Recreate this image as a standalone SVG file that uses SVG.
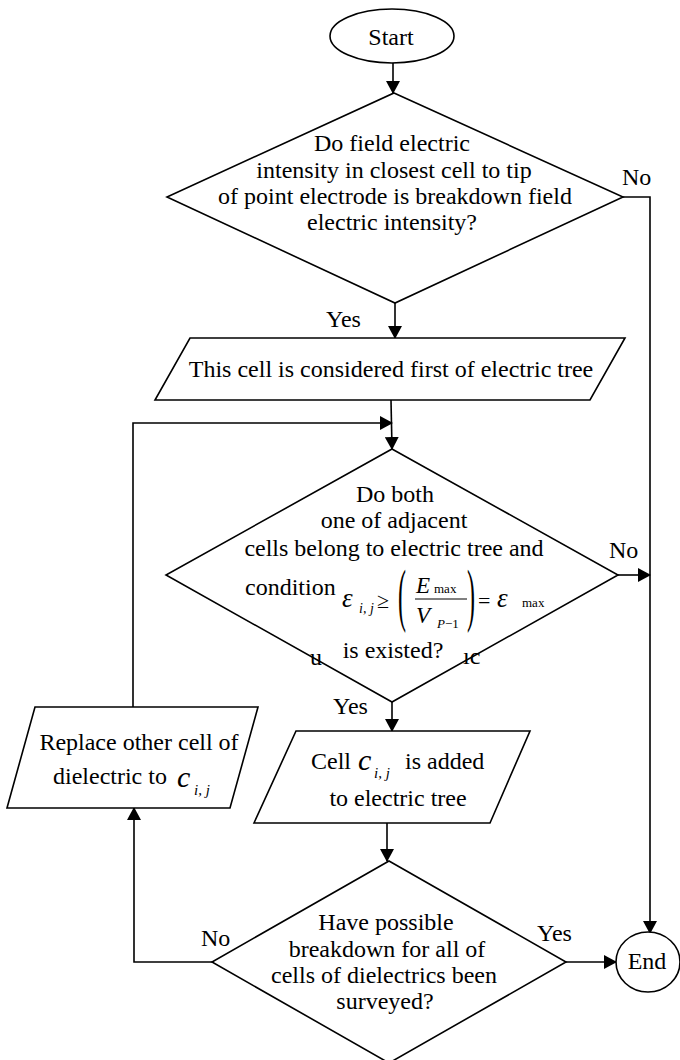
<svg xmlns="http://www.w3.org/2000/svg" width="680" height="1060" viewBox="0 0 680 1060">
<style>
.s{fill:#fff;stroke:#000;stroke-width:1.6}
.c{fill:none;stroke:#000;stroke-width:1.6}
text{font-family:"Liberation Serif","Times New Roman",serif;fill:#000}
.t{font-size:24px;text-anchor:middle}
.n{font-size:24px}
.l{font-size:24px}
.m{font-style:italic}
</style>
<defs>
<marker id="a" markerUnits="userSpaceOnUse" markerWidth="14" markerHeight="14" refX="12" refY="7" orient="auto">
<path d="M0,0 L13,7 L0,14 z" fill="#000"/>
</marker>
<clipPath id="fr"><rect x="300" y="652" width="200" height="20"/></clipPath>
</defs>
<rect width="680" height="1060" fill="#fff"/>
<g id="connectors" class="c">
<path d="M393,63 L393,93" marker-end="url(#a)"/>
<path d="M395,303 L395,338" marker-end="url(#a)"/>
<path d="M623,197 L650,197 L650,933" marker-end="url(#a)"/>
<path d="M391,400 L392,449" marker-end="url(#a)"/>
<path d="M133,707 L133,423 L392,423" marker-end="url(#a)"/>
<path d="M618,575 L650,575" marker-end="url(#a)"/>
<path d="M392,702 L392,731" marker-end="url(#a)"/>
<path d="M387,823 L387,861" marker-end="url(#a)"/>
<path d="M212,962 L134,962 L134,808" marker-end="url(#a)"/>
<path d="M566,962 L616,962" marker-end="url(#a)"/>
</g>
<g id="start">
<ellipse class="s" cx="392" cy="36" rx="62" ry="27"/>
<text class="t" x="391" y="45">Start</text>
</g>
<g id="decision1">
<polygon class="s" points="394,93 623,197 395,303 167,197"/>
<text class="t" x="392" y="151">Do field electric</text>
<text class="t" x="394" y="178">intensity in closest cell to tip</text>
<text class="t" x="395" y="204">of point electrode is breakdown field</text>
<text class="t" x="392" y="230">electric intensity?</text>
</g>
<g id="first-cell">
<polygon class="s" points="190,338 625,338 590,400 155,400"/>
<text class="t" x="391" y="377">This cell is considered first of electric tree</text>
</g>
<g id="decision2">
<polygon class="s" points="392,449 618,575 392,702 166,575"/>
<text class="t" x="395" y="502">Do both</text>
<text class="t" x="394" y="528">one of adjacent</text>
<text class="t" x="394" y="556">cells belong to electric tree and</text>
<text class="n" x="245" y="595">condition</text>
<text class="m" style="font-size:27px" x="342" y="607">ε</text>
<text class="m" style="font-size:14px" x="359" y="613">i, j</text>
<text style="font-size:22px" x="377" y="608">≥</text>
<text style="font-size:24px" transform="translate(398,618) scale(1,2.9)">(</text>
<text class="m" style="font-size:23px" x="416" y="593">E</text>
<text style="font-size:13px" x="434" y="593">max</text>
<line x1="415" y1="599" x2="467" y2="599" stroke="#000" stroke-width="1"/>
<text class="m" style="font-size:23px" x="416" y="623">V</text>
<text style="font-size:13px" x="437" y="628"><tspan class="m">P</tspan>−1</text>
<text style="font-size:24px" transform="translate(467,618) scale(1,2.9)">)</text>
<text style="font-size:22px" x="478" y="608">=</text>
<text class="m" style="font-size:27px" x="497" y="607">ε</text>
<text style="font-size:13px" x="522" y="607">max</text>
<text class="t" x="393" y="658">is existed?</text>
<g clip-path="url(#fr)">
<text class="n" x="310" y="665">u</text>
<text class="n" x="463" y="664">ic</text>
</g>
</g>
<g id="add-cell">
<polygon class="s" points="296,731 530,731 490,823 254,823"/>
<text class="n" x="311" y="769">Cell</text>
<text class="m" style="font-size:30px" x="358" y="770">c</text>
<text class="m" style="font-size:15px" x="374" y="778">i, j</text>
<text class="n" x="405" y="769">is added</text>
<text class="t" x="398" y="806">to electric tree</text>
</g>
<g id="replace">
<polygon class="s" points="35,707 258,707 230,808 7,808"/>
<text class="t" x="139" y="750">Replace other cell of</text>
<text class="n" x="53" y="784">dielectric to</text>
<text class="m" style="font-size:30px" x="177" y="787">c</text>
<text class="m" style="font-size:15px" x="194" y="795">i, j</text>
</g>
<g id="decision3">
<polygon class="s" points="389,861 566,962 389,1063 212,962"/>
<text class="t" x="386" y="930">Have possible</text>
<text class="t" x="387" y="957">breakdown for all of</text>
<text class="t" x="384" y="983">cells of dielectrics been</text>
<text class="t" x="385" y="1009">surveyed?</text>
</g>
<g id="end">
<ellipse class="s" cx="648" cy="962" rx="32" ry="30"/>
<text class="t" x="647" y="969">End</text>
</g>
<g id="labels">
<text class="l" x="622" y="185">No</text>
<text class="l" x="326" y="327">Yes</text>
<text class="l" x="609" y="558">No</text>
<text class="l" x="333" y="714">Yes</text>
<text class="l" x="201" y="946">No</text>
<text class="l" x="537" y="941">Yes</text>
</g>
</svg>
